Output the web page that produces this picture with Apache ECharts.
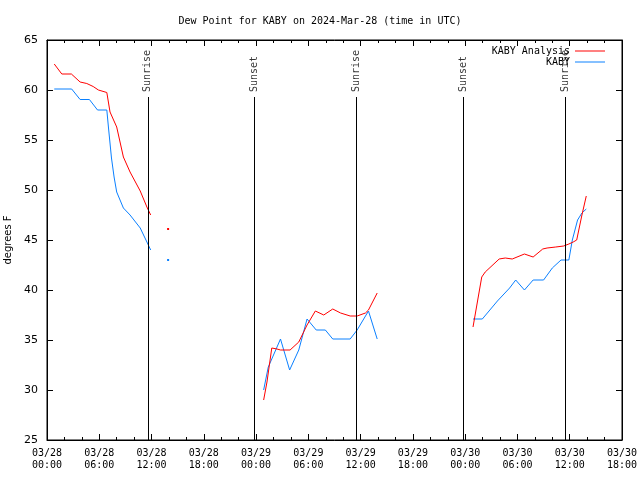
<!DOCTYPE html>
<html>
<head>
<meta charset="utf-8">
<script src="https://cdn.jsdelivr.net/npm/echarts@6/dist/echarts.min.js"></script>
<style>html,body{margin:0;padding:0;background:#fff}#c{width:640px;height:480px}</style>
</head>
<body>
<div id="c"></div>
<script>
// ---- data ----
var titleText = 'Dew Point for KABY on 2024-Mar-28 (time in UTC)';
var axisStart = '2024-03-28T00:00Z';
var axisEnd = '2024-03-30T18:00Z';
var yMin = 25, yMax = 65, yStep = 5;

var analysisTimes = [
  '2024-03-28T00:50Z','2024-03-28T01:42Z','2024-03-28T02:48Z','2024-03-28T03:48Z','2024-03-28T04:34Z',
  '2024-03-28T05:18Z','2024-03-28T05:54Z','2024-03-28T06:52Z','2024-03-28T07:14Z','2024-03-28T08:00Z',
  '2024-03-28T08:46Z','2024-03-28T09:32Z','2024-03-28T10:42Z','2024-03-28T11:28Z','2024-03-28T11:54Z',
  '2024-03-28T12:54Z','2024-03-28T13:54Z','2024-03-28T14:54Z',
  '2024-03-29T00:52Z','2024-03-29T01:15Z','2024-03-29T01:48Z','2024-03-29T02:24Z','2024-03-29T02:48Z',
  '2024-03-29T03:54Z','2024-03-29T04:54Z','2024-03-29T05:51Z','2024-03-29T06:48Z','2024-03-29T07:46Z',
  '2024-03-29T08:48Z','2024-03-29T09:42Z','2024-03-29T10:48Z','2024-03-29T11:36Z','2024-03-29T12:33Z',
  '2024-03-29T12:54Z','2024-03-29T13:54Z','2024-03-29T14:54Z',
  '2024-03-30T00:54Z','2024-03-30T01:18Z','2024-03-30T01:54Z','2024-03-30T02:18Z','2024-03-30T03:54Z',
  '2024-03-30T04:36Z','2024-03-30T05:24Z','2024-03-30T06:48Z','2024-03-30T07:48Z','2024-03-30T08:54Z',
  '2024-03-30T09:24Z','2024-03-30T10:24Z','2024-03-30T11:18Z','2024-03-30T11:54Z','2024-03-30T12:24Z',
  '2024-03-30T12:48Z','2024-03-30T13:24Z','2024-03-30T13:54Z'
];
var analysisValues = [
  62.6, 61.6, 61.6, 60.8, 60.65,
  60.35, 60.0, 59.75, 57.8, 56.3,
  53.3, 51.8, 49.9, 48.3, 47.5,
  null, 46.1, null,
  29.0, 30.8, 34.2, 34.1, 34.0,
  34.0, 34.8, 36.5, 37.9, 37.5,
  38.1, 37.7, 37.4, 37.4, 37.7,
  38.0, 39.7, null,
  36.3, 38.3, 41.3, 41.8, 43.1,
  43.2, 43.1, 43.6, 43.3, 44.1,
  44.2, 44.3, 44.4, 44.6, 44.8,
  45.0, 47.5, 49.4
];

var obsTimes = [
  '2024-03-28T00:50Z','2024-03-28T02:50Z','2024-03-28T03:48Z','2024-03-28T04:52Z','2024-03-28T05:48Z',
  '2024-03-28T06:52Z','2024-03-28T07:03Z','2024-03-28T07:24Z','2024-03-28T07:42Z','2024-03-28T08:00Z',
  '2024-03-28T08:46Z','2024-03-28T09:32Z','2024-03-28T10:42Z','2024-03-28T11:28Z','2024-03-28T11:54Z',
  '2024-03-28T12:54Z','2024-03-28T13:54Z','2024-03-28T14:54Z',
  '2024-03-29T00:52Z','2024-03-29T01:24Z','2024-03-29T01:48Z','2024-03-29T02:48Z','2024-03-29T03:51Z',
  '2024-03-29T04:54Z','2024-03-29T05:51Z','2024-03-29T06:54Z','2024-03-29T07:57Z','2024-03-29T08:48Z',
  '2024-03-29T10:48Z','2024-03-29T11:36Z','2024-03-29T12:54Z','2024-03-29T13:54Z','2024-03-29T14:54Z',
  '2024-03-30T00:54Z','2024-03-30T01:58Z','2024-03-30T03:42Z','2024-03-30T05:06Z','2024-03-30T05:48Z',
  '2024-03-30T06:48Z','2024-03-30T07:48Z','2024-03-30T09:00Z','2024-03-30T10:00Z','2024-03-30T11:00Z',
  '2024-03-30T11:54Z','2024-03-30T12:18Z','2024-03-30T12:54Z','2024-03-30T13:24Z','2024-03-30T13:54Z'
];
var obsValues = [
  60.1, 60.1, 59.05, 59.05, 58.0,
  58.0, 56.3, 53.2, 51.3, 49.8,
  48.2, 47.5, 46.2, 44.8, 44.0,
  null, 43.0, null,
  30.0, 32.3, 33.1, 35.1, 32.0,
  34.0, 37.1, 36.0, 36.0, 35.1,
  35.1, 36.0, 37.9, 35.1, null,
  37.1, 37.1, 38.9, 40.2, 41.0,
  40.0, 41.0, 41.0, 42.2, 43.0,
  43.0, 45.0, 47.0, 47.7, 48.1
];

var eventNames = ['Sunrise', 'Sunset', 'Sunrise', 'Sunset', 'Sunrise'];
var eventTimes = ['2024-03-28T11:34Z', '2024-03-28T23:45Z', '2024-03-29T11:33Z', '2024-03-29T23:46Z', '2024-03-30T11:31Z'];
var eventLineTop = 59.3;

var seriesNames = ['KABY Analysis', 'KABY'];
var seriesColors = ['#ff0000', '#0a80ff'];

// ---- build ----
var HOUR = 3600 * 1000;
function ms(s) { return Date.parse(s); }
function pad(n) { return (n < 10 ? '0' : '') + n; }
function fmt(v) {
  var d = new Date(v);
  return pad(d.getUTCMonth() + 1) + '/' + pad(d.getUTCDate()) + '\n' + pad(d.getUTCHours()) + ':' + pad(d.getUTCMinutes());
}
function build(times, values) {
  return times.map(function (t, i) {
    var v = values[i];
    var prevNull = i === 0 || values[i - 1] == null;
    var nextNull = i === values.length - 1 || values[i + 1] == null;
    var item = { value: [ms(t), v] };
    if (v != null && prevNull && nextNull) { item.symbolSize = 2; }
    return item;
  });
}

var mono = 'DejaVu Sans Mono';
var sans = 'DejaVu Sans';

var chart = echarts.init(document.getElementById('c'), null, { renderer: 'canvas' });

var xBase = {
  type: 'value', min: ms(axisStart), max: ms(axisEnd), interval: 6 * HOUR,
  splitLine: { show: false },
  axisLine: { show: true, onZero: false, lineStyle: { color: '#000', width: 1 } },
  axisTick: { show: true, inside: true, length: 6, lineStyle: { color: '#000' } },
  minorTick: { show: true, splitNumber: 3, length: 3, lineStyle: { color: '#000' } }
};
var yBase = {
  type: 'value', min: yMin, max: yMax, interval: yStep,
  splitLine: { show: false },
  axisLine: { show: true, onZero: false, lineStyle: { color: '#000', width: 1 } },
  axisTick: { show: true, inside: true, length: 6, lineStyle: { color: '#000' } }
};

var lineSeries = [
  { times: analysisTimes, values: analysisValues },
  { times: obsTimes, values: obsValues }
].map(function (s, i) {
  return {
    name: seriesNames[i], type: 'line', xAxisIndex: 0, yAxisIndex: 0,
    data: build(s.times, s.values),
    connectNulls: false, showSymbol: true, symbol: 'rect', symbolSize: 0,
    color: seriesColors[i],
    itemStyle: { color: seriesColors[i] },
    lineStyle: { color: seriesColors[i], width: 1 },
    emphasis: { disabled: true }, silent: true, z: 3 + (1 - i)
  };
});

var eventSeries = {
  name: 'events', type: 'scatter', xAxisIndex: 0, yAxisIndex: 0,
  symbolSize: 0, silent: true, z: 2,
  data: eventTimes.map(function (t, i) { return { value: [ms(t), eventLineTop], name: eventNames[i] }; }),
  label: {
    show: true, position: 'top', distance: 5, rotate: 90, align: 'left', verticalAlign: 'middle',
    formatter: function (p) { return p.name; },
    fontFamily: mono, fontSize: 10, color: '#000'
  },
  markLine: {
    silent: true, symbol: ['none', 'none'], animation: false,
    label: { show: false },
    lineStyle: { color: '#000', width: 1, type: 'solid' },
    emphasis: { disabled: true },
    data: eventTimes.map(function (t) { return [{ coord: [ms(t), eventLineTop] }, { coord: [ms(t), yMin] }]; })
  }
};

chart.setOption({
  animation: false,
  backgroundColor: '#fff',
  title: {
    text: titleText, left: 'center', top: 11,
    textStyle: { fontFamily: mono, fontSize: 10, fontWeight: 'normal', color: '#000' }
  },
  legend: {
    data: seriesNames.map(function (n) { return { name: n, icon: 'rect' }; }),
    orient: 'vertical', right: 30, top: 41, align: 'right',
    itemWidth: 30, itemHeight: 1, itemGap: 1,
    textStyle: { fontFamily: mono, fontSize: 10, color: '#000', padding: [0, 0, 0, 0] },
    selectedMode: false
  },
  grid: { left: 47, right: 18, top: 40, bottom: 40, outerBoundsMode: 'none', containLabel: false, show: true, borderColor: '#000', borderWidth: 1, backgroundColor: 'transparent' },
  xAxis: [
    Object.assign({}, xBase, {
      position: 'bottom',
      axisLabel: { formatter: fmt, fontFamily: mono, fontSize: 10, lineHeight: 12, color: '#000', margin: 7, showMinLabel: true, showMaxLabel: true }
    }),
    Object.assign({}, xBase, { position: 'top', axisLabel: { show: false } })
  ],
  yAxis: [
    Object.assign({}, yBase, {
      position: 'left',
      name: 'degrees F', nameLocation: 'middle', nameGap: 32, nameRotate: 90,
      nameTextStyle: { fontFamily: sans, fontSize: 10, color: '#000' },
      axisLabel: { fontFamily: sans, fontSize: 11, color: '#000', margin: 9 }
    }),
    Object.assign({}, yBase, { position: 'right', axisLabel: { show: false } })
  ],
  series: lineSeries.concat([eventSeries])
});
</script>
</body>
</html>
